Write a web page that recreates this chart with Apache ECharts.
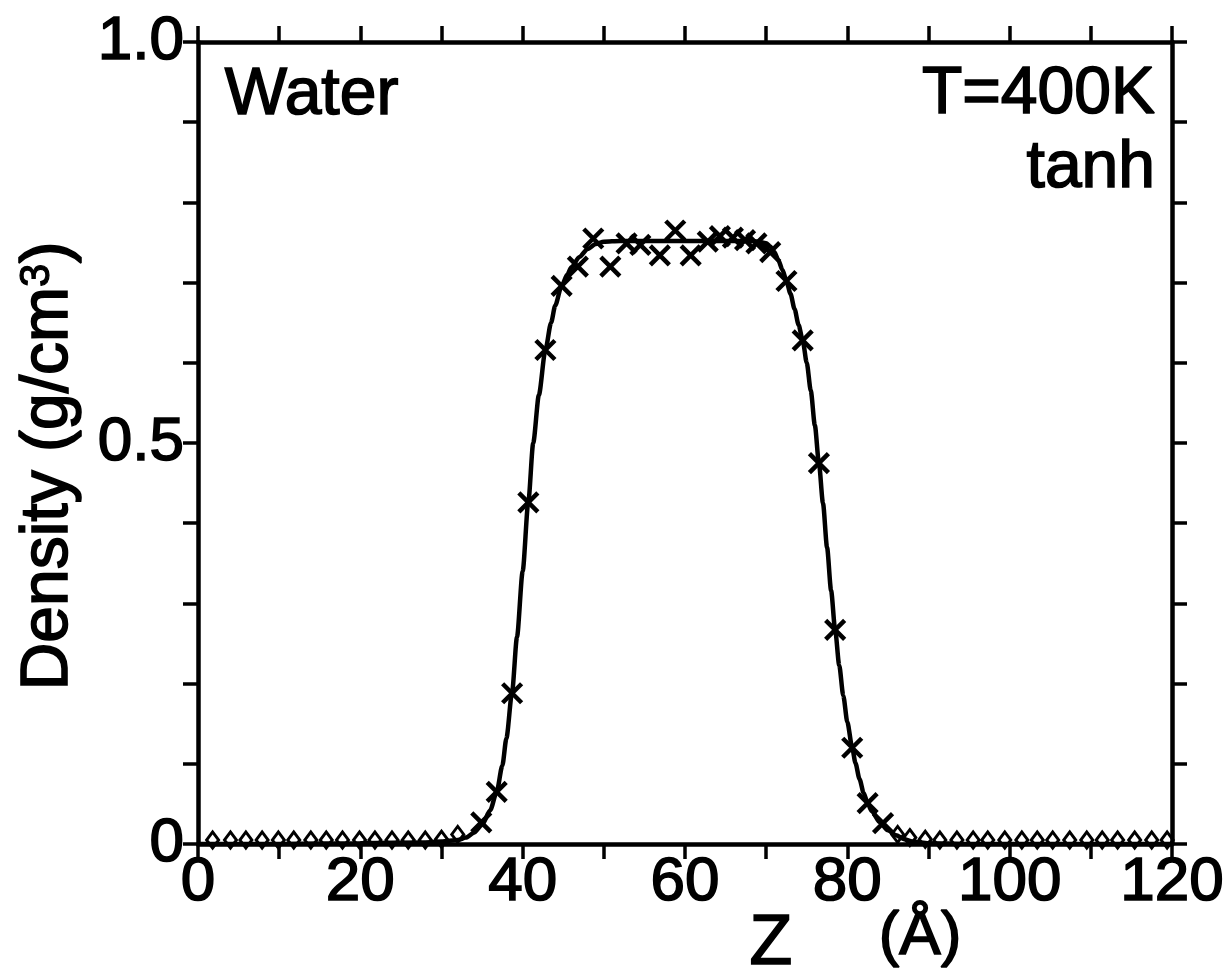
<!DOCTYPE html>
<html>
<head>
<meta charset="utf-8">
<title>Water density profile</title>
<script src="https://cdn.jsdelivr.net/npm/echarts@6/dist/echarts.min.js"></script>
<style>
  html, body { margin: 0; padding: 0; background: #fff; }
  #chart { width: 1232px; height: 977px; }
</style>
</head>
<body>
<div id="chart"></div>
<script>
// Simulated density samples (crosses) across the water slab
const crossZ = [34.9, 36.8, 38.7, 40.7, 42.8, 44.8, 46.8, 48.7, 50.8, 52.8, 54.5, 56.9, 58.8, 60.7,
                62.8, 64.3, 65.9, 67.4, 68.8, 70.5, 72.5, 74.5, 76.5, 78.5, 80.6, 82.5, 84.4];
const crossDensity = [0.027, 0.065, 0.188, 0.426, 0.616, 0.696, 0.720, 0.755, 0.720, 0.749, 0.747, 0.734, 0.765, 0.734,
                      0.751, 0.758, 0.756, 0.753, 0.749, 0.738, 0.702, 0.628, 0.475, 0.267, 0.120, 0.051, 0.026];

// Vapour-side samples (open diamonds)
const diamondZ = [1.8, 4.0, 5.9, 7.9, 9.9, 11.8, 13.9, 15.8, 17.8, 19.9, 21.8, 23.9, 25.9, 28.0, 30.0, 32.0,
                  86.2, 87.7, 89.6, 91.4, 93.5, 95.5, 97.3, 99.4, 101.5, 103.4, 105.3, 107.4, 109.5, 111.4,
                  113.3, 115.4, 117.5, 119.4];
const diamondDensity = [0.005, 0.005, 0.005, 0.005, 0.005, 0.005, 0.005, 0.005, 0.005, 0.005, 0.005, 0.005, 0.005, 0.005, 0.006, 0.012,
                        0.012, 0.008, 0.006, 0.005, 0.005, 0.005, 0.005, 0.005, 0.005, 0.005, 0.005, 0.005, 0.005, 0.005,
                        0.005, 0.005, 0.005, 0.005];

// Fitted tanh profile
const fitZ = [0, 10, 20, 28, 30, 32, 33, 34, 35, 36, 36.8, 37.5, 38, 38.7, 39.3, 40, 40.7, 41.3, 42, 42.8,
              43.5, 44, 44.8, 45.5, 46, 47, 48, 49, 50, 52, 60, 68, 69, 70, 70.5, 71, 71.5, 72, 72.5,
              73, 73.5, 74, 74.5, 75, 75.5, 76, 76.5, 77, 77.5, 78, 78.5, 79, 79.5, 80, 80.6, 81, 81.5,
              82, 82.5, 83, 84, 85, 86, 87, 88, 90, 95, 100, 110, 120];
const fitDensity = [0, 0, 0.001, 0.002, 0.003, 0.005, 0.008, 0.014, 0.024, 0.042, 0.065, 0.098, 0.132, 0.19, 0.258, 0.34, 0.427, 0.5, 0.56, 0.616,
                    0.65, 0.671, 0.696, 0.71, 0.719, 0.732, 0.742, 0.748, 0.751, 0.752, 0.752, 0.752, 0.751, 0.749, 0.745, 0.738, 0.728, 0.716, 0.702,
                    0.686, 0.667, 0.647, 0.628, 0.6, 0.565, 0.522, 0.475, 0.425, 0.37, 0.316, 0.267, 0.223, 0.185, 0.152, 0.12, 0.101, 0.081,
                    0.064, 0.051, 0.041, 0.027, 0.017, 0.011, 0.006, 0.003, 0.001, 0, 0, 0, 0];

// Tick labels
const xTickLabels = { 0: '0', 20: '20', 40: '40', 60: '60', 80: '80', 100: '100', 120: '120' };
const yTickLabels = { 0: '0', 5: '0.5', 10: '1.0' };

const FONT = 'Liberation Sans';
const INK = '#000';
const zip = (a, b) => a.map((v, i) => [v, b[i]]);

const chart = echarts.init(document.getElementById('chart'), null, { renderer: 'canvas' });

const axisLine = { show: true, onZero: false, lineStyle: { color: INK, width: 4.5 } };
const tickStyle = { color: INK, width: 3.5 };
// Slightly heavier lettering, like the printed figure
const heavy = { textBorderColor: INK, textBorderWidth: 1.6 };

chart.setOption({
  backgroundColor: '#fff',
  animation: false,
  grid: { left: 198, right: 60, top: 42, bottom: 133, outerBoundsMode: 'none', containLabel: false },
  xAxis: [
    {
      type: 'value', position: 'bottom', min: 0, max: 120, interval: 10,
      axisLine: axisLine,
      axisTick: { show: true, inside: false, length: 15, lineStyle: tickStyle },
      axisLabel: Object.assign({
        show: true, margin: 8, color: INK, fontFamily: FONT, fontSize: 62,
        formatter: v => xTickLabels[Math.round(v)] || ''
      }, heavy),
      splitLine: { show: false }
    },
    {
      type: 'value', position: 'top', min: 0, max: 120, interval: 10,
      axisLine: axisLine,
      axisTick: { show: true, inside: false, length: 16, lineStyle: tickStyle },
      axisLabel: { show: false },
      splitLine: { show: false }
    }
  ],
  yAxis: [
    {
      type: 'value', position: 'left', min: 0, max: 1, interval: 0.1,
      axisLine: axisLine,
      axisTick: { show: true, inside: false, length: 15, lineStyle: tickStyle },
      axisLabel: Object.assign({
        show: true, margin: 14, color: INK, fontFamily: FONT, fontSize: 62,
        formatter: v => yTickLabels[Math.round(v * 10)] || ''
      }, heavy),
      splitLine: { show: false }
    },
    {
      type: 'value', position: 'right', min: 0, max: 1, interval: 0.1,
      axisLine: axisLine,
      axisTick: { show: true, inside: false, length: 15, lineStyle: tickStyle },
      axisLabel: { show: false },
      splitLine: { show: false }
    }
  ],
  series: [
    {
      name: 'tanh fit', type: 'line', xAxisIndex: 0, yAxisIndex: 0,
      data: zip(fitZ, fitDensity),
      smooth: 0.25, smoothMonotone: 'x', showSymbol: false, symbol: 'none',
      lineStyle: { color: INK, width: 4.5 }, z: 2
    },
    {
      name: 'liquid', type: 'scatter', xAxisIndex: 0, yAxisIndex: 0,
      data: zip(crossZ, crossDensity),
      symbol: 'path://M0,0L20,20M20,0L0,20', symbolSize: 19,
      itemStyle: { color: 'rgba(0,0,0,0)', borderColor: INK, borderWidth: 4.5, opacity: 1 }, z: 3
    },
    {
      name: 'vapour', type: 'scatter', xAxisIndex: 0, yAxisIndex: 0,
      data: zip(diamondZ, diamondDensity),
      symbol: 'diamond', symbolSize: [12, 16],
      itemStyle: { color: 'rgba(0,0,0,0)', borderColor: INK, borderWidth: 3, opacity: 1 }, z: 3
    }
  ],
  graphic: [
    { type: 'text', left: 224, top: 62,
      style: Object.assign({ text: 'Water', fontFamily: FONT, fontSize: 66, fill: INK, stroke: INK, lineWidth: 1.6 }) },
    { type: 'text', x: 1155, y: 62,
      style: { text: 'T=400K', fontFamily: FONT, fontSize: 66, fill: INK, stroke: INK, lineWidth: 1.6, textAlign: 'right' } },
    { type: 'text', x: 1155, y: 136,
      style: { text: 'tanh', fontFamily: FONT, fontSize: 66, fill: INK, stroke: INK, lineWidth: 1.6, textAlign: 'right' } },
    { type: 'text', x: 49, y: 466, rotation: Math.PI / 2,
      style: {
        text: 'Density (g/cm{sup|3})', fontFamily: FONT, fontSize: 66, fill: INK, stroke: INK, lineWidth: 1.6,
        textAlign: 'center', textVerticalAlign: 'middle',
        rich: { sup: { fontFamily: FONT, fontSize: 42, fill: INK, stroke: INK, lineWidth: 1.2, verticalAlign: 'top', padding: [0, 0, 22, 0] } }
      } },
    { type: 'text', x: 771, y: 945,
      style: { text: 'Z', fontFamily: FONT, fontSize: 70, fill: INK, stroke: INK, lineWidth: 1.6, textAlign: 'center', textVerticalAlign: 'middle' } },
    { type: 'text', x: 920, y: 937,
      style: { text: '(Å)', fontFamily: FONT, fontSize: 62, fill: INK, stroke: INK, lineWidth: 1.6, textAlign: 'center', textVerticalAlign: 'middle' } }
  ]
});
</script>
</body>
</html>
